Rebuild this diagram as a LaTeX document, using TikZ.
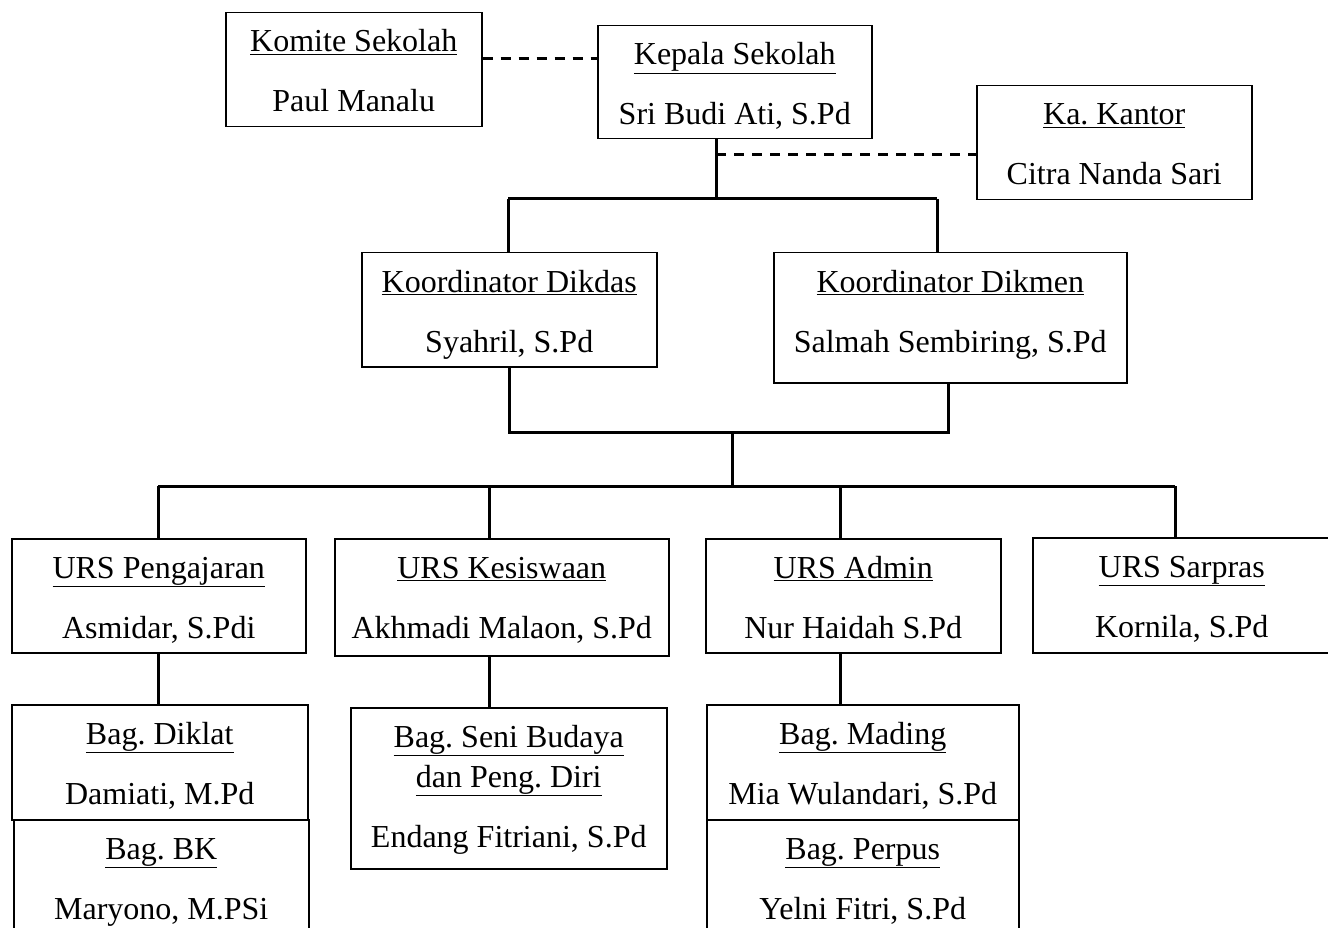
\documentclass[tikz,border=0pt]{standalone}
\usepackage{fontspec}
\setmainfont{Liberation Serif}
\usetikzlibrary{calc}
\frenchspacing
\newcommand\orgbox[7]{%
  \node[orgframe, minimum width={#4-#2}, minimum height={#5-#3}, anchor=north west] (#1) at (#2,-#3) {};
  \node[orgtxt, anchor=base] (#1-t) at ($(#1.north)+(0,-40)$) {\underline{#6}};
  \node[orgtxt, anchor=base] (#1-n) at ($(#1.north)+(0,-100)$) {#7};
}
\begin{document}
\begin{tikzpicture}[x=1pt,y=1pt,
  orgframe/.style={draw, line width=1.5pt, inner sep=0pt, fill=white},
  orgtxt/.style={inner sep=0pt, font=\fontsize{32}{40}\selectfont},
  conn/.style={line width=3pt},
  dconn/.style={line width=3pt, dash pattern=on 10pt off 8pt}]
\useasboundingbox (0,0) rectangle (1328,-928);
\clip (0,0) rectangle (1328,-928);
\fill[white] (0,0) rectangle (1328,-928);

% junction coordinates
\coordinate (kdash) at (716,-155);
\coordinate (ktop) at (716,-199);
\coordinate (kl) at (508,-199);
\coordinate (kr) at (937,-199);
\coordinate (mjoin) at (732,-432);
\coordinate (ubar) at (732,-486);
\coordinate (u1) at (158,-486);
\coordinate (u2) at (489,-486);
\coordinate (u3) at (840,-486);
\coordinate (u4) at (1175,-486);
\coordinate (kmdash) at (481,-59);
\coordinate (mr) at (948,-432);

% boxes
\orgbox{komite}{225}{12}{481}{126}{Komite Sekolah}{Paul Manalu}
\orgbox{kepala}{597}{25}{871}{138}{Kepala Sekolah}{Sri Budi Ati, S.Pd}
\orgbox{kantor}{976}{85}{1251}{199}{Ka. Kantor}{Citra Nanda Sari}
\orgbox{dikdas}{361}{252}{656}{366}{Koordinator Dikdas}{Syahril, S.Pd}
\orgbox{dikmen}{773}{252}{1126}{382}{Koordinator Dikmen}{Salmah Sembiring, S.Pd}
\orgbox{pengajaran}{11}{538}{305}{652}{URS Pengajaran}{Asmidar, S.Pdi}
\orgbox{kesiswaan}{334}{538}{668}{655}{URS Kesiswaan}{Akhmadi Malaon, S.Pd}
\orgbox{admin}{705}{538}{1000}{652}{URS Admin}{Nur Haidah S.Pd}
\orgbox{sarpras}{1032}{537}{1330}{652}{URS Sarpras}{Kornila, S.Pd}
\orgbox{diklat}{11}{704}{307}{819}{Bag. Diklat}{Damiati, M.Pd}
\orgbox{bk}{13}{819}{308}{936}{Bag. BK}{Maryono, M.PSi}
\orgbox{mading}{706}{704}{1018}{819}{Bag. Mading}{Mia Wulandari, S.Pd}
\orgbox{perpus}{706}{819}{1018}{936}{Bag. Perpus}{Yelni Fitri, S.Pd}

% Seni Budaya box (three lines)
\node[orgframe, minimum width=316, minimum height=161, anchor=north west] (seni) at (350,-707) {};
\node[orgtxt, anchor=base] (seni-t1) at ($(seni.north)+(0,-40)$) {\underline{Bag. Seni Budaya}};
\node[orgtxt, anchor=base] (seni-t2) at ($(seni.north)+(0,-80)$) {\underline{dan Peng. Diri}};
\node[orgtxt, anchor=base] (seni-n) at ($(seni.north)+(0,-140)$) {Endang Fitriani, S.Pd};

% connectors
\draw[conn] (kepala.south -| ktop) -- (ktop);
\draw[conn] (kl) -- (kr);
\draw[conn] (kl) -- (kl |- dikdas.north);
\draw[conn] (kr) -- (kr |- dikmen.north);
\draw[conn] (dikdas.south) -- (dikdas.south |- mjoin) -- (mr) -- (mr |- dikmen.south);
\draw[conn] (mjoin) -- (ubar);
\draw[conn] (u1) -- (u4);
\draw[conn] (u1) -- (u1 |- pengajaran.north);
\draw[conn] (u2) -- (u2 |- kesiswaan.north);
\draw[conn] (u3) -- (u3 |- admin.north);
\draw[conn] (u4) -- (u4 |- sarpras.north);
\draw[conn] (pengajaran.south) -- (diklat.north -| pengajaran.south);
\draw[conn] (kesiswaan.south -| u2) -- (seni.north -| u2);
\draw[conn] (admin.south -| u3) -- (mading.north -| u3);

% dashed links
\draw[dconn] (komite.east |- kmdash) -- (kepala.west |- kmdash);
\draw[dconn] (kdash) -- (kantor.west |- kdash);
\end{tikzpicture}
\end{document}
